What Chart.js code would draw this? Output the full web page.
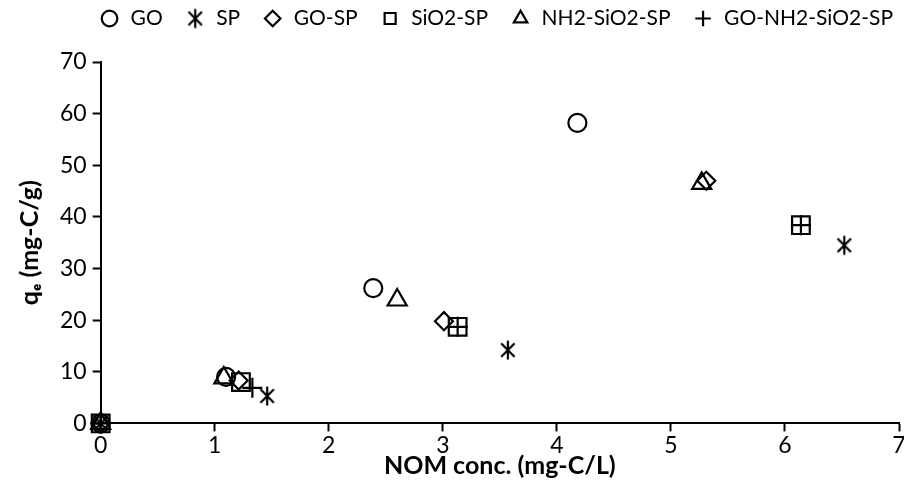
<!DOCTYPE html>
<html>
<head>
<meta charset="utf-8">
<script src="https://cdn.jsdelivr.net/npm/chart.js@4/dist/chart.umd.min.js"></script>
<style>
html,body{margin:0;padding:0;background:#fff;}
#wrap{width:904px;height:493px;}
</style>
</head>
<body>
<div id="wrap"><canvas id="c" width="904" height="493"></canvas></div>
<script>
const seriesNames = ["GO", "SP", "GO-SP", "SiO2-SP", "NH2-SiO2-SP", "GO-NH2-SiO2-SP"];
const goData = [[0, 0], [1.10, 9.0], [2.39, 26.2], [4.18, 58.2]];
const spData = [[0, 0], [1.46, 5.3], [3.57, 14.2], [6.52, 34.5]];
const goSpData = [[0, 0], [1.21, 8.3], [3.01, 19.8], [5.31, 47.0]];
const sio2SpData = [[0, 0], [1.23, 8.0], [3.13, 18.7], [6.14, 38.4]];
const nh2Sio2SpData = [[0, 0], [1.08, 8.8], [2.60, 23.9], [5.27, 46.5]];
const goNh2Sio2SpData = [[0, 0], [1.33, 6.9], [3.13, 18.7], [6.14, 38.4]];
const xTicks = [0, 1, 2, 3, 4, 5, 6, 7];
const yTicks = [0, 10, 20, 30, 40, 50, 60, 70];

function asterisk(size) {
  const c = document.createElement('canvas');
  c.width = size; c.height = size;
  const g = c.getContext('2d');
  const m = size / 2, r = size / 2 - 1.5;
  g.strokeStyle = '#000'; g.lineWidth = 2.2;
  g.beginPath();
  g.moveTo(m, m - r); g.lineTo(m, m + r);
  const dx = r * Math.cos(Math.PI / 4), dy = r * Math.sin(Math.PI / 4);
  g.moveTo(m - dx, m - dy); g.lineTo(m + dx, m + dy);
  g.moveTo(m + dx, m - dy); g.lineTo(m - dx, m + dy);
  g.stroke();
  return c;
}
const spMarker = asterisk(22);

const toPts = a => a.map(p => ({x: p[0], y: p[1]}));
const styles = [
  {pointStyle: 'circle', r: 9},
  {pointStyle: spMarker, r: 10},
  {pointStyle: 'rectRot', r: 9},
  {pointStyle: 'rect', r: 12.5},
  {pointStyle: 'triangle', r: 11},
  {pointStyle: 'cross', r: 10}
];
const dataArr = [goData, spData, goSpData, sio2SpData, nh2Sio2SpData, goNh2Sio2SpData];
const datasets = seriesNames.map((n, i) => ({
  label: n,
  data: toPts(dataArr[i]),
  pointStyle: styles[i].pointStyle,
  pointRadius: styles[i].r,
  pointHoverRadius: styles[i].r,
  borderColor: '#000',
  backgroundColor: 'rgba(0,0,0,0)',
  pointBorderWidth: 2.2,
  showLine: false,
  clip: false
}));

const legendGap = {
  id: 'legendGap',
  beforeInit(chart) {
    const lg = chart.legend;
    const orig = lg.fit;
    lg.fit = function () { orig.call(this); this.height += 23; };
  }
};

const FONT = 'Lato, "Open Sans", sans-serif';
new Chart(document.getElementById('c'), {
  type: 'scatter',
  data: {datasets},
  plugins: [legendGap],
  options: {
    responsive: false,
    animation: false,
    devicePixelRatio: 1,
    layout: {autoPadding: false, padding: {left: 15, right: -11, top: -14, bottom: 12}},
    plugins: {
      tooltip: {enabled: false},
      legend: {
        position: 'top',
        align: 'end',
        labels: {
          usePointStyle: true,
          boxHeight: 11,
          color: '#000',
          padding: 22,
          font: {family: FONT, size: 21}
        }
      }
    },
    scales: {
      x: {
        type: 'linear', min: 0, max: 7,
        afterBuildTicks: ax => { ax.ticks = xTicks.map(v => ({value: v})); },
        afterFit: ax => { ax.paddingRight = 5; },
        grid: {display: true, drawOnChartArea: false, drawTicks: true, tickLength: 8, tickColor: '#000', tickWidth: 2},
        border: {color: '#000', width: 2},
        ticks: {color: '#000', font: {family: FONT, size: 23}, padding: 0},
        title: {display: true, text: 'NOM conc. (mg-C/L)', color: '#000', font: {family: FONT, size: 25, weight: 'bold'}, padding: {top: -8, bottom: 0}}
      },
      y: {
        type: 'linear', min: 0, max: 70,
        afterBuildTicks: ax => { ax.ticks = yTicks.map(v => ({value: v})); },
        grid: {display: true, drawOnChartArea: false, drawTicks: true, tickLength: 8, tickColor: '#000', tickWidth: 2},
        border: {color: '#000', width: 2},
        ticks: {color: '#000', font: {family: FONT, size: 23}, padding: 6},
        title: {display: true, text: 'qₑ (mg-C/g)', color: '#000', font: {family: FONT, size: 25, weight: 'bold'}, padding: {top: 0, bottom: 9}}
      }
    }
  }
});
</script>
</body>
</html>
